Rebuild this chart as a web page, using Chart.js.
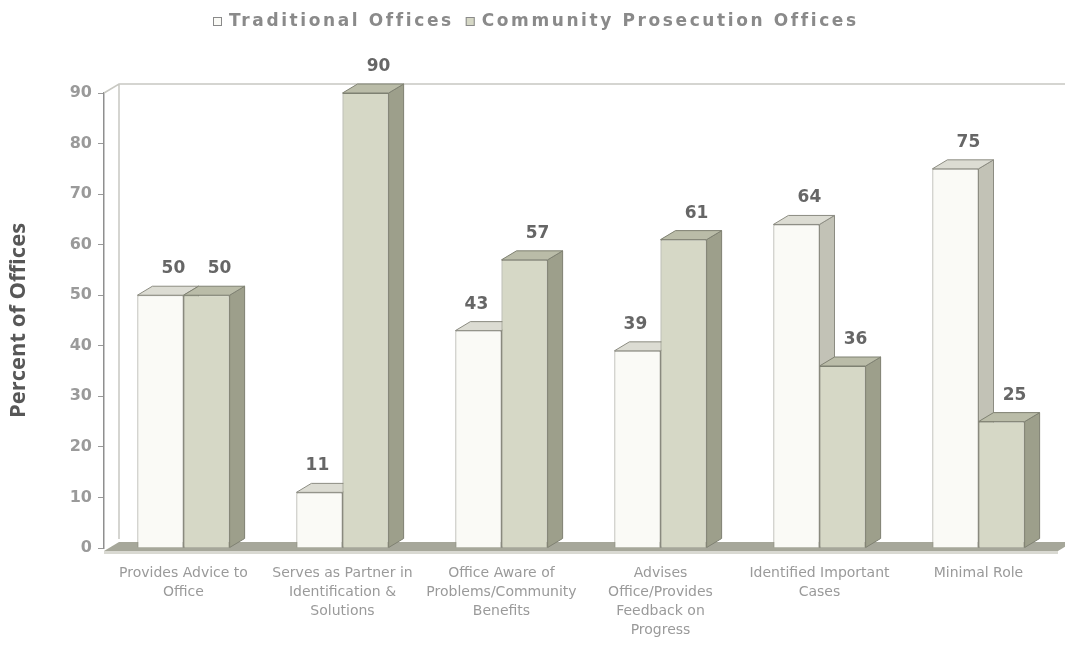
<!DOCTYPE html>
<html>
<head>
<meta charset="utf-8">
<script src="https://cdn.jsdelivr.net/npm/chart.js@4.4.1/dist/chart.umd.min.js"></script>
<style>
  html, body { margin: 0; padding: 0; background: #ffffff; }
  #wrap { width: 1065px; height: 654px; }
</style>
</head>
<body>
<div id="wrap"><canvas id="roleChart"></canvas></div>
<script>
const categories = [
  ["Provides Advice to", "Office"],
  ["Serves as Partner in", "Identification &", "Solutions"],
  ["Office Aware of", "Problems/Community", "Benefits"],
  ["Advises", "Office/Provides", "Feedback on", "Progress"],
  ["Identified Important", "Cases"],
  ["Minimal Role"]
];
const traditional = [50, 11, 43, 39, 64, 75];
const community = [50, 90, 57, 61, 36, 25];
const yTicks = [0, 10, 20, 30, 40, 50, 60, 70, 80, 90];

// depth of the fake 3D extrusion
const DX = 15, DY = 9;

const faces = [
  { front: "#fafaf6", top: "#dcdcd3", side: "#c2c2b6", edge: "#8c8c82" },
  { front: "#d6d8c6", top: "#babca8", side: "#9d9f8b", edge: "#7f8172" }
];

function drawExtrusion(ctx, bar, f) {
  const { x, y, base, width } = bar.getProps(["x", "y", "base", "width"], true);
  const x0 = x - width / 2, x1 = x + width / 2;
  ctx.strokeStyle = f.edge;
  ctx.lineWidth = 1;
  ctx.fillStyle = f.side;
  ctx.beginPath();
  ctx.moveTo(x1, y);
  ctx.lineTo(x1 + DX, y - DY);
  ctx.lineTo(x1 + DX, base - DY);
  ctx.lineTo(x1, base);
  ctx.closePath();
  ctx.fill();
  ctx.stroke();
  ctx.fillStyle = f.top;
  ctx.beginPath();
  ctx.moveTo(x0, y);
  ctx.lineTo(x0 + DX, y - DY);
  ctx.lineTo(x1 + DX, y - DY);
  ctx.lineTo(x1, y);
  ctx.closePath();
  ctx.fill();
  ctx.stroke();
}

// floor slab, back wall edges and the traditional bars' hidden faces
const wallPlugin = {
  id: "wall",
  beforeDatasetsDraw(chart) {
    const { ctx, chartArea: a } = chart;
    ctx.save();
    ctx.strokeStyle = "#c8c8c2";
    ctx.lineWidth = 1.5;
    ctx.beginPath();
    ctx.moveTo(a.left, a.top);
    ctx.lineTo(a.left + DX, a.top - DY);
    ctx.lineTo(a.right + DX + 20, a.top - DY);
    ctx.moveTo(a.left + DX, a.top - DY);
    ctx.lineTo(a.left + DX, a.bottom - DY);
    ctx.stroke();

    ctx.fillStyle = "#a6a79a";
    ctx.beginPath();
    ctx.moveTo(a.left, a.bottom + 3);
    ctx.lineTo(a.left + DX, a.bottom - DY + 3);
    ctx.lineTo(a.right + DX, a.bottom - DY + 3);
    ctx.lineTo(a.right, a.bottom + 3);
    ctx.closePath();
    ctx.fill();
    ctx.fillStyle = "#d9d9d2";
    ctx.fillRect(a.left, a.bottom + 3, a.right - a.left, 3);

    chart.getDatasetMeta(0).data.forEach(bar => drawExtrusion(ctx, bar, faces[0]));
    ctx.restore();
  }
};

// community bars get their top and side right after their fronts
const extrudePlugin = {
  id: "extrude",
  afterDatasetDraw(chart, args) {
    if (args.index !== 1) return;
    const { ctx } = chart;
    ctx.save();
    args.meta.data.forEach(bar => drawExtrusion(ctx, bar, faces[1]));
    ctx.restore();
  }
};

// value labels above each bar; a traditional label next to a taller
// community bar is pulled left so it stays clear of it
const valuePlugin = {
  id: "values",
  afterDraw(chart) {
    const { ctx } = chart;
    ctx.save();
    ctx.font = "bold 17px 'DejaVu Sans'";
    ctx.fillStyle = "#666666";
    ctx.textAlign = "center";
    ctx.textBaseline = "bottom";
    chart.data.datasets.forEach((ds, i) => {
      chart.getDatasetMeta(i).data.forEach((bar, j) => {
        let off = 13;
        if (i === 0 && community[j] > traditional[j]) off = -2;
        ctx.fillText(String(ds.data[j]), bar.x + off, bar.y - DY - 9);
      });
    });
    ctx.restore();
  }
};

// legend row across the top, spaced out
const legendPlugin = {
  id: "spacedLegend",
  afterDraw(chart) {
    const { ctx } = chart;
    ctx.save();
    ctx.font = "bold 17px 'DejaVu Sans'";
    ctx.letterSpacing = "2.6px";
    ctx.textBaseline = "middle";
    let x = 213;
    const y = 22;
    chart.data.datasets.forEach((ds, i) => {
      ctx.fillStyle = faces[i].front;
      ctx.fillRect(x, y - 5, 9, 9);
      ctx.strokeStyle = "#8a8a8a";
      ctx.lineWidth = 1;
      ctx.strokeRect(x + 0.5, y - 4.5, 8, 8);
      ctx.fillStyle = "#8a8a8a";
      ctx.fillText(ds.label, x + 16, y);
      x += 16 + ctx.measureText(ds.label).width + 12;
    });
    ctx.restore();
  }
};

new Chart(document.getElementById("roleChart"), {
  type: "bar",
  data: {
    labels: categories,
    datasets: [
      {
        label: "Traditional Offices",
        data: traditional,
        backgroundColor: faces[0].front,
        borderColor: faces[0].edge,
        borderWidth: 1
      },
      {
        label: "Community Prosecution Offices",
        data: community,
        backgroundColor: faces[1].front,
        borderColor: faces[1].edge,
        borderWidth: 1
      }
    ]
  },
  options: {
    responsive: true,
    maintainAspectRatio: false,
    animation: false,
    layout: { padding: { left: 2, right: 7, top: 93, bottom: 0 } },
    datasets: { bar: { categoryPercentage: 0.58, barPercentage: 1 } },
    plugins: {
      legend: { display: false },
      tooltip: { enabled: false }
    },
    scales: {
      x: {
        grid: { display: false },
        border: { display: false },
        ticks: {
          autoSkip: false,
          maxRotation: 0,
          padding: 8,
          color: "#9a9a9a",
          font: { family: "'DejaVu Sans'", size: 14, lineHeight: 1.36 }
        },
        afterFit(scale) { scale.height = 106; }
      },
      y: {
        min: 0,
        max: 90,
        afterBuildTicks(scale) { scale.ticks = yTicks.map(v => ({ value: v })); },
        grid: { drawOnChartArea: false, tickLength: 6, color: "#999999" },
        border: { color: "#8f8f8f", width: 1.5 },
        ticks: {
          padding: 6,
          color: "#9a9a9a",
          font: { family: "'DejaVu Sans'", size: 16, weight: "bold" }
        },
        title: {
          display: true,
          text: "Percent of Offices",
          color: "#575757",
          padding: { top: 4, bottom: 0 },
          font: { family: "'Open Sans'", size: 22, weight: "bold" }
        },
        afterFit(scale) { scale.width = 102; }
      }
    }
  },
  plugins: [wallPlugin, extrudePlugin, valuePlugin, legendPlugin]
});
</script>
</body>
</html>
